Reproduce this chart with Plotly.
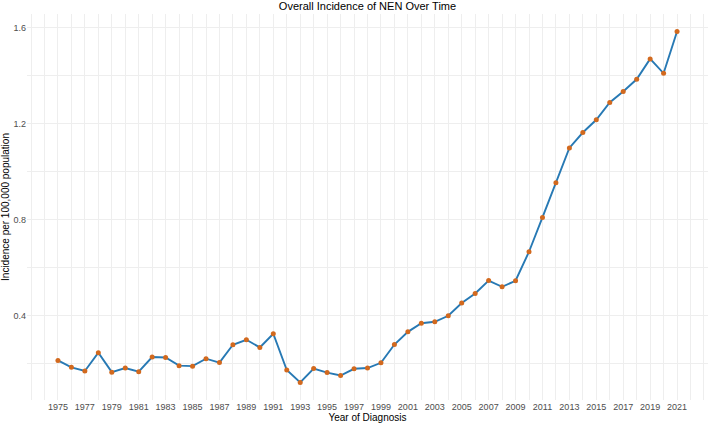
import plotly.graph_objects as go

years = list(range(1975, 2022))
incidence = [0.214, 0.185, 0.170, 0.246, 0.165, 0.182, 0.167, 0.228, 0.226, 0.192,
             0.190, 0.221, 0.205, 0.279, 0.300, 0.268, 0.325, 0.174, 0.122, 0.180,
             0.163, 0.151, 0.179, 0.182, 0.204, 0.280, 0.333, 0.369, 0.375, 0.400,
             0.453, 0.493, 0.547, 0.521, 0.546, 0.667, 0.810, 0.955, 1.100, 1.164,
             1.217, 1.289, 1.335, 1.386, 1.471, 1.411, 1.585]

x_label_years = list(range(1975, 2022, 2))
y_major = [0.4, 0.8, 1.2, 1.6]
y_minor = [0.2, 0.6, 1.0, 1.4]

def expand(lo, hi, f=0.05):
    d = (hi - lo) * f
    return [lo - d, hi + d]

xr = expand(min(years), max(years))
yr = expand(min(incidence), max(incidence))

x_grid = [y for y in range(int(xr[0]) + 1, int(xr[1]) + 1)]
x_text = [str(y) if y in x_label_years else "" for y in x_grid]

y_grid = sorted(y_major + y_minor)
y_text = [f"{v:.1f}" if v in y_major else "" for v in y_grid]

fig = go.Figure()
fig.add_trace(go.Scatter(
    x=years, y=incidence, mode="lines+markers",
    line=dict(color="#2779B4", width=1.9),
    marker=dict(color="#D2691E", size=5, line=dict(width=0)),
    showlegend=False,
))

grid = "#EEEEEE"
fig.update_layout(
    width=709, height=424,
    margin=dict(l=27, r=1, t=14, b=24),
    paper_bgcolor="white", plot_bgcolor="white",
    font=dict(family="Liberation Sans, Arial, sans-serif", color="#000000"),
    title=dict(text="Overall Incidence of NEN Over Time", x=0.5, xref="paper",
               y=1 - 6.5 / 424, yref="container", yanchor="middle",
               font=dict(size=11, color="#000000")),
    xaxis=dict(range=xr, tickmode="array", tickvals=x_grid, ticktext=x_text,
               showgrid=True, gridcolor=grid, gridwidth=1, zeroline=False,
               showline=False, ticks="", tickfont=dict(size=9, color="#4D4D4D"),
               title=dict(text="Year of Diagnosis", font=dict(size=10, color="#000000"),
                          standoff=2)),
    yaxis=dict(range=yr, tickmode="array", tickvals=y_grid, ticktext=y_text,
               showgrid=True, gridcolor=grid, gridwidth=1, zeroline=False,
               showline=False, ticks="", tickfont=dict(size=9, color="#4D4D4D"),
               title=dict(text="Incidence per 100,000 population",
                          font=dict(size=10, color="#000000"), standoff=3)),
)

fig.write_html("out.html")
